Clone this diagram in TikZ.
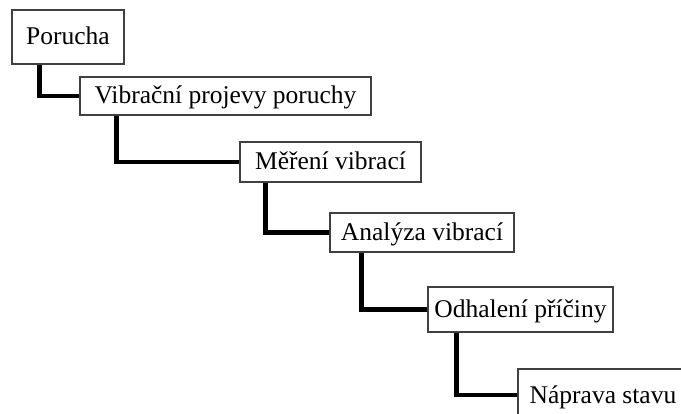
\documentclass[tikz,border=0pt]{standalone}
\usepackage{fontspec}
\setmainfont{Liberation Serif}
\begin{document}
\begin{tikzpicture}[x=1pt,y=1pt,
  box/.style={draw=black!75, line width=1.1pt, fill=white, rectangle, inner sep=0pt,
    font=\fontsize{25.5}{29}\selectfont, text height=18pt, text depth=2pt},
  conn/.style={draw=black, line width=4.5pt, line join=miter}]
\useasboundingbox (0,0) rectangle (681,413);
\clip (0,0) rectangle (681,413);
\fill[white] (0,0) rectangle (681,413);
\node[box, minimum width=112pt, minimum height=54pt] (b1) at (68,376) {Porucha};
\node[box, minimum width=291pt, minimum height=38pt] (b2) at (225.5,317) {Vibrační projevy poruchy};
\node[box, minimum width=181pt, minimum height=40pt] (b3) at (330.5,251) {Měření vibrací};
\node[box, minimum width=184pt, minimum height=39pt] (b4) at (422,180.5) {Analýza vibrací};
\node[box, minimum width=185pt, minimum height=45pt] (b5) at (520.5,103.5) {Odhalení příčiny};
\node[box, minimum width=170pt, minimum height=52pt] (b6) at (603,18) {Náprava stavu};
\draw[conn] ([xshift=28pt]b1.south west) |- (b2.west);
\draw[conn] ([xshift=37pt]b2.south west) |- (b3.west);
\draw[conn] ([xshift=26pt]b3.south west) |- (b4.west);
\draw[conn] ([xshift=32pt]b4.south west) |- (b5.west);
\draw[conn] ([xshift=29pt]b5.south west) |- (b6.west);
\end{tikzpicture}
\end{document}
